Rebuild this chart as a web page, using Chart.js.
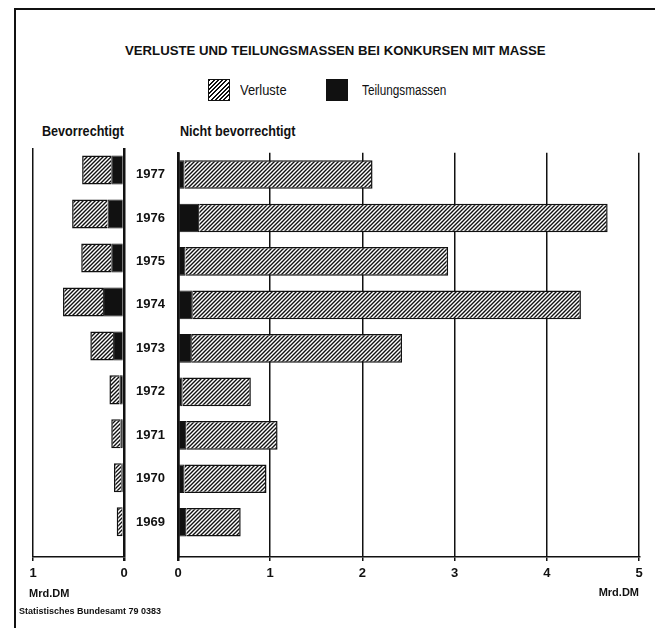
<!DOCTYPE html>
<html>
<head>
<meta charset="utf-8">
<script src="https://cdn.jsdelivr.net/npm/chart.js@4.4.1/dist/chart.umd.min.js"></script>
<style>
  body { margin: 0; background: #fff; }
  #page { position: relative; width: 655px; height: 628px; overflow: hidden;
          font-family: 'Liberation Sans', Arial, sans-serif; color: #111; }
  .frame { position: absolute; left: 14px; top: 8px; width: 660px; height: 640px;
           border-left: 2px solid #111; border-top: 2px solid #111; }
  .txt { position: absolute; white-space: nowrap; line-height: 1; transform-origin: left center; }
  .sw { position: absolute; width: 22px; height: 22px; box-sizing: border-box; border: 1.5px solid #111; }
  canvas { position: absolute; }
</style>
</head>
<body>
<div id="page">
  <div class="frame"></div>
  <div class="txt" style="left:125px; top:44px; font-size:13.2px; font-weight:bold;">VERLUSTE UND TEILUNGSMASSEN BEI KONKURSEN MIT MASSE</div>

  <div class="sw" style="left:208px; top:79px; background:repeating-linear-gradient(135deg, #111 0 1.3px, #fff 1.3px 3px);"></div>
  <div class="txt" style="left:240px; top:83px; font-size:14px; transform:scaleX(0.92);">Verluste</div>
  <div class="sw" style="left:326px; top:79px; background:#111;"></div>
  <div class="txt" style="left:362px; top:83px; font-size:14px; transform:scaleX(0.84);">Teilungsmassen</div>

  <div class="txt" style="left:42px; top:124px; font-size:14px; font-weight:bold; transform:scaleX(0.9);">Bevorrechtigt</div>
  <div class="txt" style="left:180px; top:124px; font-size:14px; font-weight:bold; transform:scaleX(0.9);">Nicht bevorrechtigt</div>

  <canvas id="left" width="134" height="467" style="left:0px; top:140px;"></canvas>
  <canvas id="right" width="531" height="467" style="left:124px; top:140px;"></canvas>

  <div class="txt" style="left:19px; top:607px; font-size:9px; font-weight:bold;">Statistisches Bundesamt 79 0383</div>
</div>

<script>
// Werte in Mrd. DM
const years = [1977, 1976, 1975, 1974, 1973, 1972, 1971, 1970, 1969];

// bevorrechtigt
const teilBev = [0.14, 0.18, 0.14, 0.23, 0.12, 0.05, 0.04, 0.03, 0.02];
const verlBev = [0.32, 0.39, 0.33, 0.44, 0.25, 0.11, 0.10, 0.08, 0.06];

// nicht bevorrechtigt
const teilNicht = [0.07, 0.23, 0.08, 0.16, 0.15, 0.05, 0.09, 0.07, 0.09];
const verlNicht = [2.04, 4.43, 2.85, 4.21, 2.28, 0.74, 0.99, 0.89, 0.59];

const leftTicks = [0, 1];
const rightTicks = [0, 1, 2, 3, 4, 5];

const FONT = "'Liberation Sans', Arial, sans-serif";
const INK = '#111';

function hatch() {
  const c = document.createElement('canvas');
  c.width = 4; c.height = 4;
  const g = c.getContext('2d');
  g.fillStyle = '#fff';
  g.fillRect(0, 0, 4, 4);
  g.strokeStyle = INK;
  g.lineWidth = 1.4;
  g.beginPath();
  g.moveTo(-1, 5); g.lineTo(5, -1);
  g.moveTo(-1, 1); g.lineTo(1, -1);
  g.moveTo(3, 5); g.lineTo(5, 3);
  g.stroke();
  return g.createPattern(c, 'repeat');
}
const hatchFill = hatch();

function datasets(teil, verl) {
  return [
    { label: 'Teilungsmassen', data: teil, backgroundColor: INK, borderColor: INK, borderWidth: 1 },
    { label: 'Verluste', data: verl, backgroundColor: hatchFill, borderColor: INK, borderWidth: 1.5 }
  ];
}

// y-Achse linear, damit unten etwas Luft bleibt wie im Original
const yScale = {
  type: 'linear',
  stacked: true,
  offset: false,
  min: 1968.2,
  max: 1977.5,
  afterBuildTicks: s => { s.ticks = years.map(v => ({ value: v })); }
};

const leftTitle = {
  id: 'leftTitle',
  afterDraw(chart) {
    const s = chart.scales.x;
    const c = chart.ctx;
    c.save();
    c.font = 'bold 11px ' + FONT;
    c.fillStyle = INK;
    c.textAlign = 'left';
    c.textBaseline = 'middle';
    c.fillText('Mrd.DM', s.left - 4, 454);
    c.restore();
  }
};

new Chart(document.getElementById('left'), {
  type: 'bar',
  data: { labels: years, datasets: datasets(teilBev, verlBev) },
  options: {
    indexAxis: 'y',
    responsive: false,
    animation: false,
    layout: { padding: { left: 33, right: 10, top: 8, bottom: 0 } },
    datasets: { bar: { categoryPercentage: 1, barPercentage: 0.66 } },
    plugins: { legend: { display: false }, tooltip: { enabled: false } },
    scales: {
      x: {
        stacked: true,
        reverse: true,
        min: 0,
        max: 1,
        afterBuildTicks: s => { s.ticks = leftTicks.map(v => ({ value: v })); },
        afterFit: s => { s.height = 50; },
        grid: { color: INK, lineWidth: c => c.tick && c.tick.value === 0 ? 2.5 : 1.5, tickLength: 4 },
        border: { color: INK, width: 1.5 },
        ticks: { color: INK, font: { family: FONT, size: 13, weight: 'bold' }, padding: 5, maxRotation: 0 }
      },
      y: Object.assign({}, yScale, { display: false })
    }
  },
  plugins: [leftTitle]
});

new Chart(document.getElementById('right'), {
  type: 'bar',
  data: { labels: years, datasets: datasets(teilNicht, verlNicht) },
  options: {
    indexAxis: 'y',
    responsive: false,
    animation: false,
    layout: { padding: { left: 0, right: 16, top: 8, bottom: 0 } },
    datasets: { bar: { categoryPercentage: 1, barPercentage: 0.66 } },
    plugins: { legend: { display: false }, tooltip: { enabled: false } },
    scales: {
      x: {
        stacked: true,
        min: 0,
        max: 5,
        afterBuildTicks: s => { s.ticks = rightTicks.map(v => ({ value: v })); },
        afterFit: s => { s.height = 50; },
        grid: { color: INK, lineWidth: c => c.tick && c.tick.value === 0 ? 2.5 : 1.5, tickLength: 4 },
        border: { color: INK, width: 1.5 },
        ticks: { color: INK, font: { family: FONT, size: 13, weight: 'bold' }, padding: 5, maxRotation: 0 },
        title: { display: true, text: 'Mrd.DM', align: 'end', color: INK,
                 font: { family: FONT, size: 11, weight: 'bold' }, padding: { top: 0, bottom: 7 } }
      },
      y: Object.assign({}, yScale, {
        afterFit: s => { s.width = 54; },
        grid: { display: false },
        border: { color: INK, width: 2.5 },
        ticks: { color: INK, font: { family: FONT, size: 13, weight: 'bold' }, padding: 5,
                 callback: v => String(v) }
      })
    }
  }
});
</script>
</body>
</html>
